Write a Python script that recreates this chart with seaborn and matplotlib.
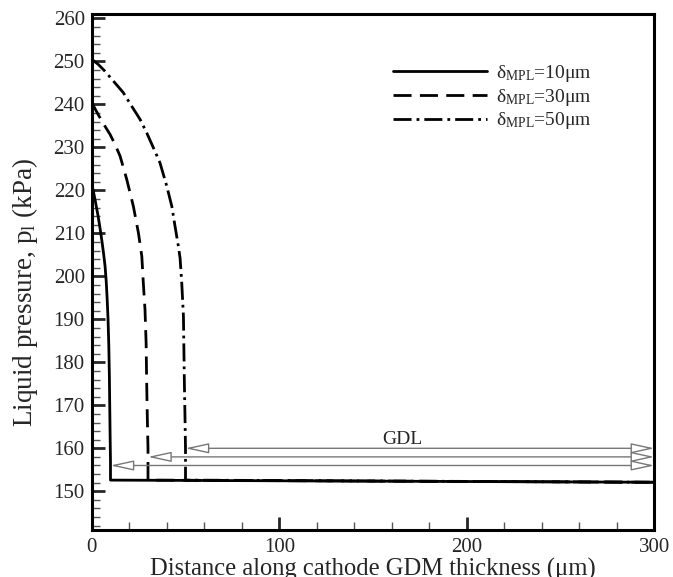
import numpy as np
import pandas as pd
import matplotlib
matplotlib.use("Agg")
import matplotlib.pyplot as plt
from matplotlib.ticker import MultipleLocator
import seaborn as sns

# curve values: x in um, liquid pressure in kPa
x_10 = [0, 0.7, 2.0, 3.4, 4.5, 5.5, 6.4, 7.1, 7.7, 8.2, 8.7, 9.1, 9.4, 9.6, 9.8, 10, 10, 300]
p_10 = [221.0, 220.2, 217.3, 214.0, 211.0, 208.0, 205.0, 202.4, 199.0, 195.0, 190.0, 184.0, 177.0, 170.0,
        163.0, 157.0, 152.6, 152.1]

x_30 = [0, 1.0, 4.0, 7.1, 9.8, 12.5, 15.1, 18.7, 22.2, 24.9, 26.7, 27.5, 28.4, 29.0, 29.3, 29.6, 30, 30, 300]
p_30 = [240.5, 239.6, 237.2, 234.9, 233.0, 230.6, 228.0, 222.5, 216.3, 210.1, 204.7, 198.5, 192.3, 184.5,
        175.2, 168.0, 160.0, 152.6, 152.1]

x_50 = [0, 3.5, 7.1, 12.4, 16.9, 21.3, 25.8, 29.3, 32.9, 36.4, 40.0, 42.7, 44.4, 46.2, 47.1,
        48.0, 48.9, 49.4, 49.7, 50, 50, 300]
p_50 = [250.5, 249.3, 247.7, 245.0, 242.7, 239.6, 236.5, 233.4, 229.9, 226.4, 221.0, 216.3, 211.7, 207.0,
        204.3, 198.5, 190.7, 175.2, 168.0, 160.0, 152.6, 152.1]

labels = ["δ$_{\\mathrm{MPL}}$=10μm", "δ$_{\\mathrm{MPL}}$=30μm", "δ$_{\\mathrm{MPL}}$=50μm"]

# GDL arrows: start of GDL for each case and the level it is drawn at
gdl_start = [10, 30, 50]
arrow_level = [156, 158, 160]
gdl_end = 300

sns.set_theme(style="ticks")
plt.rcParams['font.family'] = ['Liberation Serif', 'DejaVu Serif']
plt.rcParams['mathtext.fontset'] = 'custom'
plt.rcParams['mathtext.rm'] = 'Liberation Serif'
plt.rcParams['mathtext.it'] = 'Liberation Serif:italic'

fig = plt.figure(figsize=(6.73, 5.77), dpi=100)
ax = fig.add_axes([0.1363, 0.0815, 0.836, 0.894])

styles = [
    (x_50, p_50, labels[2], (0, (6.5, 1.8, 1, 1.8)), 2),
    (x_30, p_30, labels[1], (0, (6.5, 3)), 3),
    (x_10, p_10, labels[0], '-', 4),
]
for xs, ps, lab, ls, z in styles:
    df = pd.DataFrame({"x": xs, "p": ps})
    sns.lineplot(data=df, x="x", y="p", sort=False, estimator=None, ax=ax,
                 color="black", linewidth=2.0, linestyle=ls, zorder=z, label=lab)

# double headed GDL arrows
for xs0, yl in zip(gdl_start, arrow_level):
    ax.annotate('', xy=(gdl_end, yl), xytext=(xs0, yl),
                arrowprops=dict(arrowstyle='<|-|>,head_length=1.1,head_width=0.24',
                                mutation_scale=13, fc='white', ec='#777777',
                                lw=1.0, shrinkA=0, shrinkB=0))
ax.text(165.5, 162.0, "GDL", ha='center', va='center', fontsize=14)

ax.set_xlim(0, 300)
ax.set_ylim(141, 261)
ax.xaxis.set_major_locator(MultipleLocator(100))
ax.xaxis.set_minor_locator(MultipleLocator(20))
ax.yaxis.set_minor_locator(MultipleLocator(2))
ax.set_yticks(np.arange(150, 261, 10))
ax.tick_params(which='major', direction='in', length=9.5, width=2.0, labelsize=15,
               top=False, right=False, pad=5)
ax.tick_params(which='minor', direction='in', length=5.5, width=1.0, color='#555555',
               top=False, right=False)
ax.tick_params(axis='x', which='major', pad=6)
for s in ax.spines.values():
    s.set_linewidth(2.2)
    s.set_color('black')

ax.set_xlabel("Distance along cathode GDM thickness (μm)", fontsize=17.7, labelpad=0.5)
ax.set_ylabel("Liquid pressure, p$_{\\mathrm{l}}$ (kPa)", fontsize=19.5)
ax.yaxis.set_label_coords(-0.092, 0.461)

h, l = ax.get_legend_handles_labels()
order = [l.index(t) for t in labels]
ax.legend([h[i] for i in order], [l[i] for i in order], frameon=False, fontsize=14,
          loc='upper left', bbox_to_anchor=(0.5356, 0.906), handlelength=4.85,
          labelspacing=0.15, handletextpad=0.45, borderaxespad=0, borderpad=0)

fig.savefig("out.png", dpi=100)
